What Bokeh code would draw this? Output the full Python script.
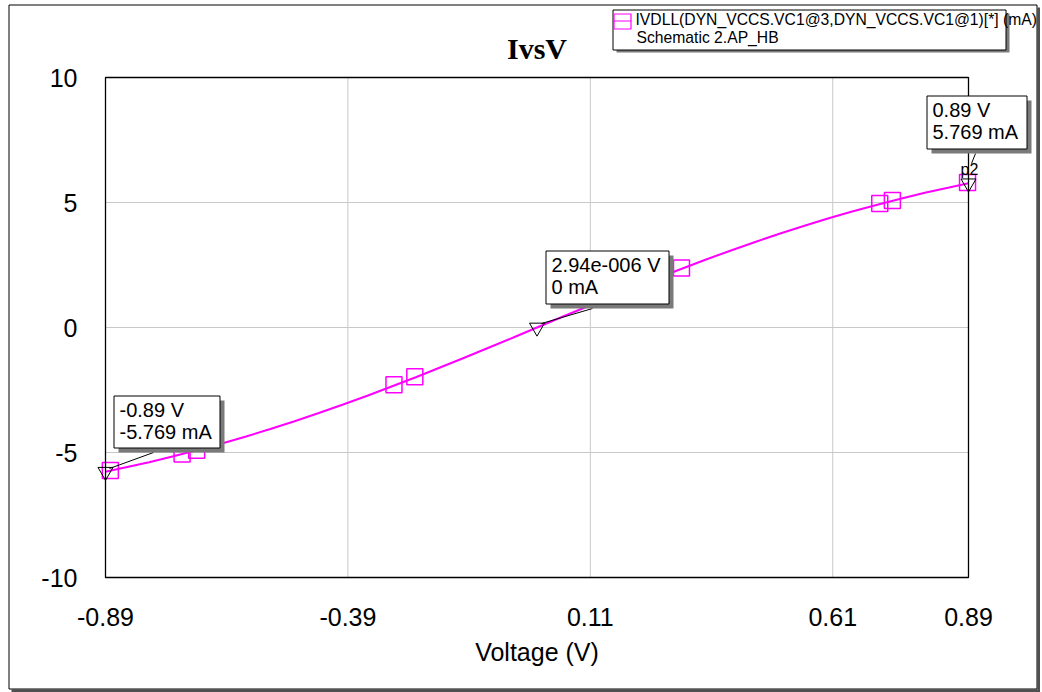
from bokeh.plotting import figure
from bokeh.models import Range1d, FixedTicker, Label, BoxAnnotation, Arrow, LinearAxis
from bokeh.embed import file_html
from bokeh.resources import INLINE

# ---------------- data ----------------
voltage = [-0.89, -0.85, -0.80, -0.75, -0.70, -0.65, -0.60, -0.55, -0.50, -0.45,
           -0.40, -0.35, -0.30, -0.25, -0.20, -0.15, -0.10, -0.05, 0.00,
           0.05, 0.10, 0.15, 0.20, 0.25, 0.30, 0.35, 0.40, 0.45, 0.50,
           0.55, 0.60, 0.65, 0.70, 0.75, 0.80, 0.85, 0.89]
current = [-5.77, -5.60, -5.39, -5.15, -4.90, -4.64, -4.36, -4.06, -3.75, -3.42,
           -3.08, -2.73, -2.36, -1.99, -1.60, -1.21, -0.81, -0.41, 0.00,
           0.41, 0.81, 1.21, 1.60, 1.99, 2.36, 2.73, 3.08, 3.42, 3.75,
           4.06, 4.36, 4.64, 4.90, 5.15, 5.39, 5.60, 5.77]

sq_voltage = [-0.880, -0.732, -0.702, -0.295, -0.252, 0.298, 0.707, 0.733, 0.888]
sq_current = [-5.72, -5.06, -4.91, -2.29, -1.97, 2.38, 4.96, 5.08, 5.80]

mk_voltage = [-0.89, 2.94e-6, 0.89]
mk_current = [-5.769, 0.0, 5.769]
mk_text_v = ["-0.89 V", "2.94e-006 V", "0.89 V"]
mk_text_i = ["-5.769 mA", "0 mA", "5.769 mA"]
mk_name = "p2"

x_ticks = [-0.89, -0.39, 0.11, 0.61, 0.89]
x_tick_labels = ["-0.89", "-0.39", "0.11", "0.61", "0.89"]
y_ticks = [-10, -5, 0, 5, 10]
y_tick_labels = ["-10", "-5", "0", "5", "10"]

title_text = "IvsV"
x_label = "Voltage (V)"
legend_line1 = "IVDLL(DYN_VCCS.VC1@3,DYN_VCCS.VC1@1)[*] (mA)"
legend_line2 = "Schematic 2.AP_HB"

# ---------------- layout (canvas pixels) ----------------
W, H = 1040, 692
FL, FR, FT, FB = 105, 968, 77, 577          # plot area
X0, X1 = x_ticks[0], x_ticks[-1]
Y0, Y1 = y_ticks[0], y_ticks[-1]


def dx(px):
    return X0 + (px - FL) / (FR - FL) * (X1 - X0)


def dy(py):
    return Y1 - (py - FT) / (FB - FT) * (Y1 - Y0)


FONT = "Liberation Sans"
MAGENTA = "#ff00ff"
GRID = "#c8c8c8"

p = figure(width=W, height=H, x_range=Range1d(dx(0), dx(W)), y_range=Range1d(dy(H), dy(0)),
           output_backend="svg", toolbar_location=None,
           x_axis_type=None, y_axis_type=None, min_border=0,
           min_border_left=0, min_border_right=0, min_border_top=0, min_border_bottom=0)
p.background_fill_color = "white"
p.border_fill_color = "white"
p.outline_line_color = None

# ---------------- axes (fixed to the plot-area edges) ----------------
xaxis = LinearAxis(fixed_location=Y0, bounds=(X0, X1), ticker=FixedTicker(ticks=x_ticks))
xaxis.major_label_overrides = dict(zip(x_ticks, x_tick_labels))
xaxis.major_label_standoff = 30
xaxis.axis_label = x_label
xaxis.axis_label_text_font = FONT
xaxis.axis_label_text_font_size = "25px"
xaxis.axis_label_text_font_style = "normal"
xaxis.axis_label_text_color = "black"
xaxis.axis_label_standoff = 9

yaxis = LinearAxis(fixed_location=X0, bounds=(Y0, Y1), ticker=FixedTicker(ticks=y_ticks))
yaxis.major_label_overrides = dict(zip(y_ticks, y_tick_labels))
yaxis.major_label_standoff = 28

for ax in (xaxis, yaxis):
    ax.axis_line_color = None
    ax.major_tick_line_color = None
    ax.minor_tick_line_color = None
    ax.major_tick_out = 0
    ax.major_tick_in = 0
    ax.minor_tick_out = 0
    ax.minor_tick_in = 0
    ax.major_label_text_font = FONT
    ax.major_label_text_font_size = "25px"
    ax.major_label_text_color = "black"

p.add_layout(xaxis, "below")
p.add_layout(yaxis, "left")

# ---------------- grid lines at the ticks ----------------
p.segment(x0=x_ticks, y0=[Y0] * len(x_ticks), x1=x_ticks, y1=[Y1] * len(x_ticks),
          line_color=GRID, line_width=1)
p.segment(x0=[X0] * len(y_ticks), y0=y_ticks, x1=[X1] * len(y_ticks), y1=y_ticks,
          line_color=GRID, line_width=1)

# ---------------- series ----------------
p.line(voltage, current, line_color=MAGENTA, line_width=2)
p.scatter(sq_voltage, sq_current, marker="square", size=16, fill_color=None,
          line_color=MAGENTA, line_width=1.5)
p.scatter(mk_voltage, mk_current, marker="inverted_triangle", size=15,
          fill_color=None, line_color="black", line_width=1)


def box(l, t, r, b, fill=None, line=None, lw=1):
    return BoxAnnotation(left=dx(l), right=dx(r), top=dy(t), bottom=dy(b),
                         fill_color=fill, fill_alpha=1, line_color=line,
                         line_alpha=1, line_width=lw)


def text(px, baseline, s, size, font=FONT, style="normal", align="left"):
    # shift so that the drawn baseline lands on the wanted pixel row
    return Label(x=dx(px), y=dy(baseline - 0.4 * size), text=s, text_align=align,
                 text_baseline="alphabetic", text_font=font, text_font_style=style,
                 text_font_size=f"{size}px", text_color="black")


# ---------------- plot area frame ----------------
p.add_layout(BoxAnnotation(left=X0, right=X1, top=Y1, bottom=Y0, fill_color=None,
                           line_color="black", line_alpha=1, line_width=1.3))

# ---------------- outer border ----------------
p.add_layout(box(1037, 7, 1039.5, 691, fill="#505050"))
p.add_layout(box(11, 689, 1039.5, 691.5, fill="#505050"))
p.add_layout(box(8.5, 4.5, 1036.5, 688.5, line="black"))

# ---------------- title ----------------
p.add_layout(text((FL + FR) / 2, 60, title_text, 30, font="Liberation Serif",
                  style="bold", align="center"))

# ---------------- marker annotation boxes ----------------
boxes = [(113, 395, 219, 447), (545, 250, 668, 303), (926, 95, 1026, 148)]
leaders = [((153, 452), (109, 468)), ((592, 308), (541, 323)), ((975, 153), (971, 163))]
SH = 5
for (l, t, r, b), (s, e), tv, ti in zip(boxes, leaders, mk_text_v, mk_text_i):
    p.add_layout(Arrow(end=None, x_start=dx(s[0]), y_start=dy(s[1]), x_end=dx(e[0]),
                       y_end=dy(e[1]), line_color="black", line_width=1))
    p.add_layout(box(l + SH, t + SH, r + SH, b + SH, fill="#7a7a7a"))
    p.add_layout(box(l + 0.5, t + 0.5, r + 0.5, b + 0.5, fill="white", line="black"))
    p.add_layout(text(l + 6, t + 22, tv, 20))
    p.add_layout(text(l + 6, t + 44, ti, 20))

p.add_layout(text(960, 175, mk_name, 16))

# ---------------- legend ----------------
LL, LT, LR, LB = 612, 9, 1005, 49
p.add_layout(box(LL + 4, LT + 4, LR + 4, LB + 3, fill="#7a7a7a"))
p.add_layout(box(LL + 0.5, LT + 0.5, LR + 0.5, LB + 0.5, fill="white", line="black"))
p.add_layout(box(LL + 1.5, LT + 4.5, LL + 18.5, LT + 19.5, line=MAGENTA, lw=1.2))
p.add_layout(Arrow(end=None, x_start=dx(LL + 1), y_start=dy(LT + 11.5), x_end=dx(LL + 19),
                   y_end=dy(LT + 11.5), line_color=MAGENTA, line_width=1.2))
p.add_layout(text(LL + 23, LT + 16, legend_line1, 15.7))
p.add_layout(text(LL + 24, LT + 34, legend_line2, 15.7))

open("out.html", "w").write(file_html(p, INLINE))
